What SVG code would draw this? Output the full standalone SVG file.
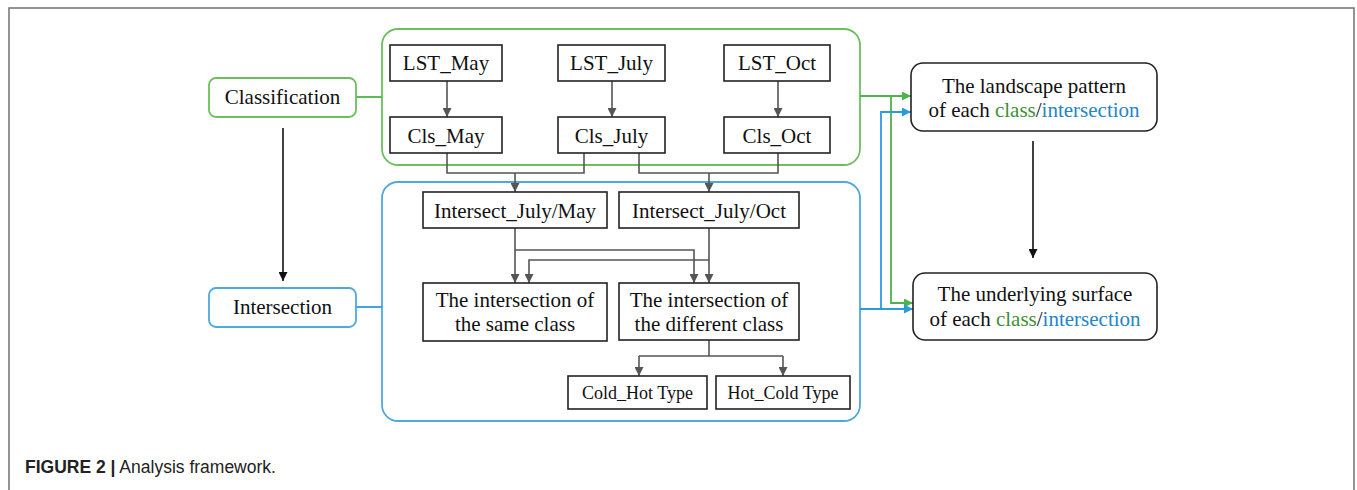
<svg xmlns="http://www.w3.org/2000/svg" width="1357" height="490" viewBox="0 0 1357 490">
  <style>
    .t { font-family: "Liberation Serif", "Times New Roman", serif; font-size: 21px; fill: #111; text-anchor: middle; }
    .ts { font-family: "Liberation Serif", "Times New Roman", serif; font-size: 18px; fill: #111; text-anchor: middle; }
    .box { fill: #fff; stroke: #222; stroke-width: 1.6; }
    .rbox { fill: #fff; stroke: #222; stroke-width: 1.6; }
    .gbox { fill: none; stroke: #6cbf5c; stroke-width: 1.8; }
    .bbox { fill: none; stroke: #4fa8de; stroke-width: 1.8; }
    .gray { fill: none; stroke: #555; stroke-width: 1.6; }
    .blk { fill: none; stroke: #111; stroke-width: 1.6; }
    .gl { fill: none; stroke: #4db34a; stroke-width: 1.8; }
    .bl { fill: none; stroke: #2b9be0; stroke-width: 1.8; }
    .cg { fill: #3f8f3a; }
    .cb { fill: #2485c8; }
    .cap { font-family: "Liberation Sans", Arial, sans-serif; font-size: 17.5px; fill: #222; }
  </style>
  <defs>
    <marker id="ah-gray" viewBox="0 0 10 10" refX="10" refY="5" markerWidth="9" markerHeight="9" markerUnits="userSpaceOnUse" orient="auto">
      <path d="M0,0 L10,5 L0,10 z" fill="#555"/>
    </marker>
    <marker id="ah-black" viewBox="0 0 10 10" refX="10" refY="5" markerWidth="9" markerHeight="9" markerUnits="userSpaceOnUse" orient="auto">
      <path d="M0,0 L10,5 L0,10 z" fill="#111"/>
    </marker>
    <marker id="ah-green" viewBox="0 0 10 10" refX="10" refY="5" markerWidth="9" markerHeight="9" markerUnits="userSpaceOnUse" orient="auto">
      <path d="M0,0 L10,5 L0,10 z" fill="#4db34a"/>
    </marker>
    <marker id="ah-blue" viewBox="0 0 10 10" refX="10" refY="5" markerWidth="9" markerHeight="9" markerUnits="userSpaceOnUse" orient="auto">
      <path d="M0,0 L10,5 L0,10 z" fill="#2b9be0"/>
    </marker>
  </defs>

  <!-- page background and figure frame -->
  <rect x="0" y="0" width="1357" height="490" fill="#fff"/>
  <rect x="9" y="8" width="1345" height="500" fill="none" stroke="#7a7a7a" stroke-width="1.6"/>

  <!-- group containers -->
  <g id="classification-group">
    <rect class="gbox" x="382" y="29" width="478" height="136" rx="16"/>
  </g>
  <g id="intersection-group">
    <rect class="bbox" x="382" y="182" width="478" height="239" rx="16"/>
  </g>

  <!-- connectors -->
  <g id="connectors">
    <!-- LST to Cls -->
    <path class="gray" d="M447,81 V117" marker-end="url(#ah-gray)"/>
    <path class="gray" d="M612,81 V117" marker-end="url(#ah-gray)"/>
    <path class="gray" d="M778,81 V117" marker-end="url(#ah-gray)"/>
    <!-- Cls pairs to intersects -->
    <path class="gray" d="M447,153 V173 H584 V153"/>
    <path class="gray" d="M515,173 V192" marker-end="url(#ah-gray)"/>
    <path class="gray" d="M639,153 V173 H778 V153"/>
    <path class="gray" d="M709,173 V192" marker-end="url(#ah-gray)"/>
    <!-- intersects to same/different class -->
    <path class="gray" d="M515,228 V283" marker-end="url(#ah-gray)"/>
    <path class="gray" d="M515,250 H694 V283" marker-end="url(#ah-gray)"/>
    <path class="gray" d="M709,228 V283" marker-end="url(#ah-gray)"/>
    <path class="gray" d="M709,260 H529 V283" marker-end="url(#ah-gray)"/>
    <!-- different class to types -->
    <path class="gray" d="M709,340 V356"/>
    <path class="gray" d="M639,356 H783"/>
    <path class="gray" d="M639,356 V376" marker-end="url(#ah-gray)"/>
    <path class="gray" d="M783,356 V376" marker-end="url(#ah-gray)"/>
    <!-- left side -->
    <path class="gl" d="M356,97 H382"/>
    <path class="bl" d="M356,307 H382"/>
    <path class="blk" d="M283,128 V281" marker-end="url(#ah-black)"/>
    <!-- right side -->
    <path class="gl" d="M860,96 H911" marker-end="url(#ah-green)"/>
    <path class="gl" d="M891,96 V303 H913" marker-end="url(#ah-green)"/>
    <path class="bl" d="M860,309 H913" marker-end="url(#ah-blue)"/>
    <path class="bl" d="M881,309 V112 H911" marker-end="url(#ah-blue)"/>
    <path class="blk" d="M1033,141 V258" marker-end="url(#ah-black)"/>
  </g>

  <!-- nodes -->
  <g id="classification">
    <rect x="209" y="78" width="147" height="39" rx="7" fill="#fff" stroke="#6cbf5c" stroke-width="1.8"/>
    <text class="t" x="282.5" y="104">Classification</text>
  </g>
  <g id="intersection">
    <rect x="209" y="288" width="147" height="39" rx="7" fill="#fff" stroke="#4fa8de" stroke-width="1.8"/>
    <text class="t" x="282.5" y="314">Intersection</text>
  </g>

  <g id="lst-may">
    <rect class="box" x="390" y="45" width="112" height="36"/>
    <text class="t" x="446" y="70">LST_May</text>
  </g>
  <g id="lst-july">
    <rect class="box" x="558" y="45" width="107" height="36"/>
    <text class="t" x="611.5" y="70">LST_July</text>
  </g>
  <g id="lst-oct">
    <rect class="box" x="724" y="45" width="106" height="36"/>
    <text class="t" x="777" y="70">LST_Oct</text>
  </g>

  <g id="cls-may">
    <rect class="box" x="390" y="117" width="112" height="36"/>
    <text class="t" x="446" y="143">Cls_May</text>
  </g>
  <g id="cls-july">
    <rect class="box" x="558" y="117" width="107" height="36"/>
    <text class="t" x="611.5" y="143">Cls_July</text>
  </g>
  <g id="cls-oct">
    <rect class="box" x="724" y="117" width="106" height="36"/>
    <text class="t" x="777" y="143">Cls_Oct</text>
  </g>

  <g id="intersect-july-may">
    <rect class="box" x="423" y="192" width="184" height="36"/>
    <text class="t" x="515" y="218">Intersect_July/May</text>
  </g>
  <g id="intersect-july-oct">
    <rect class="box" x="619" y="192" width="180" height="36"/>
    <text class="t" x="709" y="218">Intersect_July/Oct</text>
  </g>

  <g id="same-class">
    <rect class="box" x="423" y="283" width="184" height="58"/>
    <text class="t" x="515" y="307">The intersection of</text>
    <text class="t" x="515" y="331">the same class</text>
  </g>
  <g id="different-class">
    <rect class="box" x="619" y="283" width="180" height="57"/>
    <text class="t" x="709" y="307">The intersection of</text>
    <text class="t" x="709" y="331">the different class</text>
  </g>

  <g id="cold-hot">
    <rect class="box" x="568" y="376" width="139" height="33"/>
    <text class="ts" x="637.5" y="399">Cold_Hot Type</text>
  </g>
  <g id="hot-cold">
    <rect class="box" x="716" y="376" width="134" height="33"/>
    <text class="ts" x="783" y="399">Hot_Cold Type</text>
  </g>

  <g id="landscape-pattern">
    <rect class="rbox" x="911" y="63" width="246" height="68" rx="12"/>
    <text class="t" x="1034" y="93">The landscape pattern</text>
    <text class="t" x="1034" y="117">of each <tspan class="cg">class</tspan>/<tspan class="cb">intersection</tspan></text>
  </g>
  <g id="underlying-surface">
    <rect class="rbox" x="913" y="273" width="244" height="67" rx="12"/>
    <text class="t" x="1035" y="301">The underlying surface</text>
    <text class="t" x="1035" y="326">of each <tspan class="cg">class</tspan>/<tspan class="cb">intersection</tspan></text>
  </g>

  <!-- caption -->
  <text class="cap" x="25" y="473"><tspan font-weight="bold">FIGURE 2 |</tspan> Analysis framework.</text>
</svg>
